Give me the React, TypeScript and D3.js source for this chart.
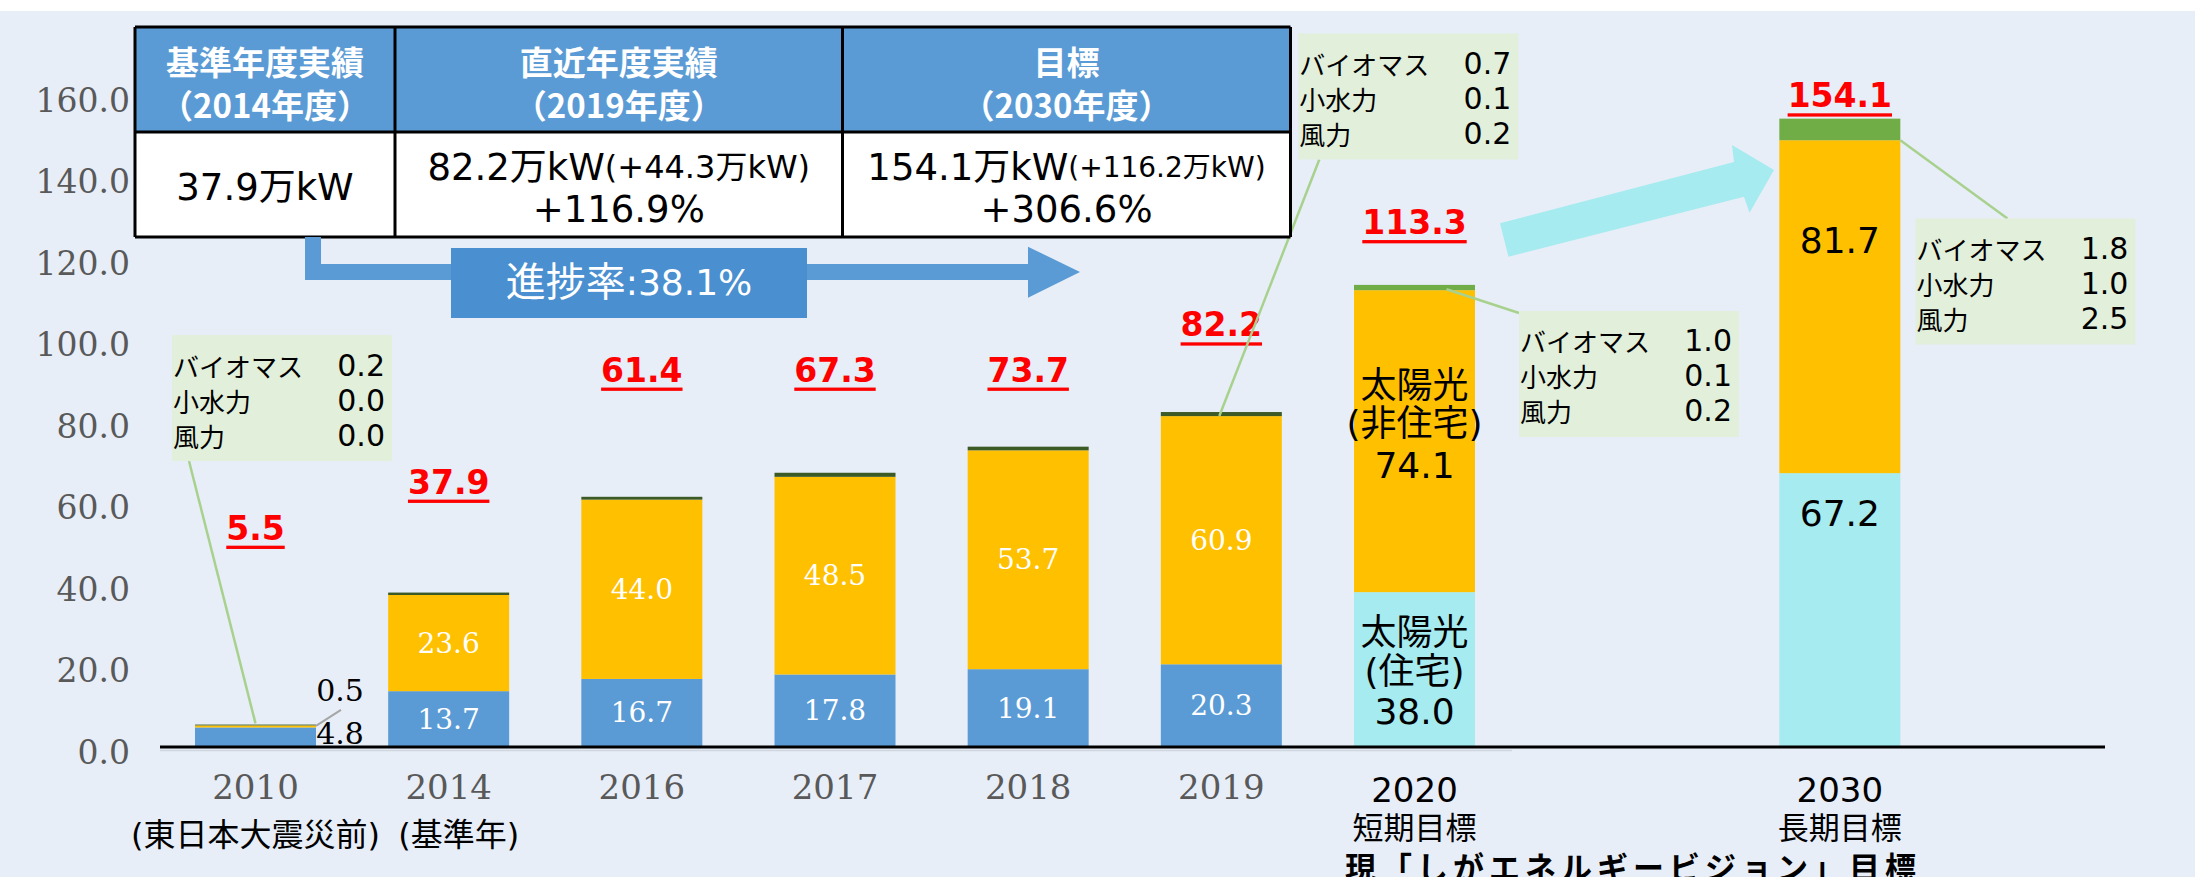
import React, { useEffect } from 'react';
import * as d3 from 'd3';

// ---------- data ----------
const categories = ['2010', '2014', '2016', '2017', '2018', '2019', '2020', '2030'];
const categoryNotes = ['(東日本大震災前)', '(基準年)', '', '', '', '', '短期目標', '長期目標'];
const solarResidential = [4.8, 13.7, 16.7, 17.8, 19.1, 20.3, 38.0, 67.2];
const solarNonResidential = [0.5, 23.6, 44.0, 48.5, 53.7, 60.9, 74.1, 81.7];
const otherSources = [0.2, 0.6, 0.7, 1.0, 0.9, 1.0, 1.3, 5.3];
const totals = [5.5, 37.9, 61.4, 67.3, 73.7, 82.2, 113.3, 154.1];
const yTickValues = [0, 20, 40, 60, 80, 100, 120, 140, 160];

const calloutCategories = ['2010', '2019', '2020', '2030'];
const calloutNames = ['バイオマス', '小水力', '風力'];
const biomass = [0.2, 0.7, 1.0, 1.8];
const smallHydro = [0.0, 0.1, 0.1, 1.0];
const wind = [0.0, 0.2, 0.2, 2.5];

const tableHeads = ['基準年度実績', '直近年度実績', '目標'];
const tableYears = ['（2014年度）', '（2019年度）', '（2030年度）'];
const tableValues = ['37.9万kW', '82.2万kW', '154.1万kW'];
const tableIncrements = ['', '(+44.3万kW)', '(+116.2万kW)'];
const tableRates = ['', '+116.9%', '+306.6%'];
const progressLabel = '進捗率';
const progressValue = ':38.1%';
const visionLabel = '現「しがエネルギービジョン」目標';

// ---------- styles ----------
const BG = '#E7EEF8';
const BLUE = '#5B9BD5';
const ORANGE = '#FFC000';
const CYAN = '#A5EBEF';
const GREEN = '#70AD47';
const DARKGREEN = '#3B5A26';
const CALLOUT = '#E2EFDA';
const LEADER = '#A9D18E';
const SANS = '"Noto Sans CJK JP", "Noto Sans", sans-serif';
const LATIN = '"DejaVu Sans", "Noto Sans CJK JP", sans-serif';
const SERIF = '"DejaVu Serif", serif';

export default function App() {
  useEffect(() => {
    document.body.style.margin = '0';
  }, []);

  const W = 2195;
  const H = 877;
  const y = d3.scaleLinear().domain([0, 160]).range([747, 95]);
  const hist = d3.scalePoint<string>().domain(categories.slice(0, 7)).range([255.5, 1414.5]);
  const step = hist.step();
  const xc = (c: string) => (c === '2030' ? (hist('2020') as number) + step * 2 + 39 : (hist(c) as number));
  const barW = 121;

  const rows = categories.map((c, i) => ({
    cat: c,
    res: solarResidential[i],
    nonres: solarNonResidential[i],
    oth: otherSources[i],
  }));
  const series = d3.stack<any>().keys(['res', 'nonres', 'oth'])(rows);
  const isTarget = (i: number) => i >= 6;
  const colorOf = (key: string, i: number) => {
    if (key === 'res') return isTarget(i) ? CYAN : BLUE;
    if (key === 'nonres') return ORANGE;
    return isTarget(i) ? GREEN : DARKGREEN;
  };

  // table layout
  const colEdges = [135, 395, 842.5, 1290.5];
  const rowEdges = [27, 132, 237];

  // total label levels (chart units, where the label centre sits)
  const totalLabelLevels = [53.7, 65, 92.5, 92.5, 92.5, 103.6, 128.7, 159.8];

  // callout box layout: offset from bar centre (px) and top level (chart units)
  const calloutLayout = [
    { dx: -83.5, top: 101.1 },
    { dx: 77, top: 175.1 },
    { dx: 104.5, top: 107 },
    { dx: 75.6, top: 129.7 },
  ];
  const boxW = 220;
  const boxH = 126;
  const calloutValues = calloutCategories.map((_, i) => [biomass[i], smallHydro[i], wind[i]]);

  const boxes = calloutCategories.map((c, i) => {
    const l = calloutLayout[i];
    return { x: xc(c) + l.dx, y: y(l.top), cat: c };
  });

  const leaders = [
    [boxes[0].x + 17, boxes[0].y + boxH, xc('2010'), y(solarResidential[0] + solarNonResidential[0]) - 2],
    [boxes[1].x + 21, boxes[1].y + boxH, xc('2019') - 2, y(totals[5]) + 4],
    [xc('2020') + 32, y(solarResidential[6] + solarNonResidential[6]) - 1, boxes[2].x, boxes[2].y + 2],
    [xc('2030') + barW / 2, y(solarResidential[7] + solarNonResidential[7]), boxes[3].x + 92, boxes[3].y],
  ];

  const x2010R = xc('2010') + barW / 2;
  const mid2020Non = y(solarResidential[6] + solarNonResidential[6] / 2);
  const mid2020Res = y(solarResidential[6] / 2);

  return (
    <svg
      width={W}
      height={H}
      viewBox={`0 0 ${W} ${H}`}
      style={{ position: 'absolute', left: 0, top: 0, display: 'block' }}
    >
      <rect x={0} y={0} width={W} height={H} fill={BG} />
      <rect x={0} y={0} width={W} height={11} fill="#FFFFFF" />

      {/* y tick labels */}
      {yTickValues.map((v) => (
        <text
          key={v}
          x={130}
          y={y(v) + 5}
          textAnchor="end"
          dominantBaseline="central"
          fontFamily={SERIF}
          fontSize={33}
          fill="#595959"
        >
          {d3.format('.1f')(v)}
        </text>
      ))}

      {/* big cyan arrow */}
      <polygon
        points="1508.5,256.7 1500,223.3 1734,162 1732,145 1774,170 1749.5,212.7 1744,196.7"
        fill={CYAN}
      />

      {/* bars */}
      {series.map((s) => (
        <g key={s.key}>
          {s.map((d, i) => (
            <rect
              key={categories[i]}
              x={xc(categories[i]) - barW / 2}
              y={y(d[1])}
              width={barW}
              height={Math.max(0, y(d[0]) - y(d[1]))}
              fill={colorOf(s.key as string, i)}
            />
          ))}
        </g>
      ))}

      {/* axis lines */}
      <line x1={160} x2={1512} y1={750.5} y2={750.5} stroke="#D0D6DE" strokeWidth={1.5} />
      <line x1={160} x2={2105} y1={747} y2={747} stroke="#000" strokeWidth={3} />

      {/* in-bar labels (historical) */}
      {categories.slice(1, 6).map((c) => {
        const i = categories.indexOf(c);
        const r = solarResidential[i];
        const n = solarNonResidential[i];
        return (
          <g key={c} fontFamily={SERIF} fontSize={28} fill="#FFFFFF" textAnchor="middle">
            <text x={xc(c)} y={y(r / 2)} dominantBaseline="central">
              {r.toFixed(1)}
            </text>
            <text x={xc(c)} y={y(r + n / 2)} dominantBaseline="central">
              {n.toFixed(1)}
            </text>
          </g>
        );
      })}

      {/* 2010 outside labels */}
      <line
        x1={x2010R}
        y1={y(solarResidential[0] + 0.4)}
        x2={x2010R + 25}
        y2={y(solarResidential[0] + 0.4) - 16}
        stroke="#A6A6A6"
        strokeWidth={2}
      />
      <text x={x2010R + 24} y={y(0) - 57} textAnchor="middle" dominantBaseline="central" fontFamily={SERIF} fontSize={30} fill="#000">
        {solarNonResidential[0].toFixed(1)}
      </text>
      <text x={x2010R + 24} y={y(0) - 14} textAnchor="middle" dominantBaseline="central" fontFamily={SERIF} fontSize={30} fill="#000">
        {solarResidential[0].toFixed(1)}
      </text>

      {/* in-bar labels (targets) */}
      <g fontFamily={LATIN} fontSize={36} fill="#000" textAnchor="middle">
        <text x={xc('2020')} y={mid2020Non - 56} dominantBaseline="central">太陽光</text>
        <text x={xc('2020')} y={mid2020Non - 18} dominantBaseline="central">(非住宅)</text>
        <text x={xc('2020')} y={mid2020Non + 24} dominantBaseline="central">{solarNonResidential[6].toFixed(1)}</text>
        <text x={xc('2020')} y={mid2020Res - 37} dominantBaseline="central">太陽光</text>
        <text x={xc('2020')} y={mid2020Res + 2} dominantBaseline="central">(住宅)</text>
        <text x={xc('2020')} y={mid2020Res + 42} dominantBaseline="central">{solarResidential[6].toFixed(1)}</text>
        <text x={xc('2030')} y={y(124.4)} dominantBaseline="central">{solarNonResidential[7].toFixed(1)}</text>
        <text x={xc('2030')} y={y(57.3)} dominantBaseline="central">{solarResidential[7].toFixed(1)}</text>
      </g>

      {/* total labels */}
      {categories.map((c, i) => (
        <text
          key={c}
          x={xc(c)}
          y={y(totalLabelLevels[i])}
          textAnchor="middle"
          dominantBaseline="central"
          fontFamily={LATIN}
          fontWeight="bold"
          fontSize={33}
          fill="#FF0000"
          style={{ textDecoration: 'underline', textDecorationThickness: '2px', textUnderlineOffset: '3px' }}
        >
          {totals[i].toFixed(1)}
        </text>
      ))}

      {/* leaders */}
      {leaders.map((l, i) => (
        <line key={i} x1={l[0]} y1={l[1]} x2={l[2]} y2={l[3]} stroke={LEADER} strokeWidth={2.5} />
      ))}

      {/* callouts */}
      {boxes.map((b, i) => (
        <g key={b.cat}>
          <rect x={b.x} y={b.y} width={boxW} height={boxH} fill={CALLOUT} />
          {calloutNames.map((n, k) => (
            <g key={n} fill="#000">
              <text x={b.x + 1} y={b.y + 30 + k * 35} dominantBaseline="central" fontFamily={SANS} fontSize={26}>
                {n}
              </text>
              <text
                x={b.x + boxW - 7}
                y={b.y + 30 + k * 35}
                dominantBaseline="central"
                textAnchor="end"
                fontFamily={LATIN}
                fontSize={30}
              >
                {calloutValues[i][k].toFixed(1)}
              </text>
            </g>
          ))}
        </g>
      ))}

      {/* table */}
      <rect x={colEdges[0]} y={rowEdges[0]} width={colEdges[3] - colEdges[0]} height={rowEdges[1] - rowEdges[0]} fill={BLUE} />
      <rect x={colEdges[0]} y={rowEdges[1]} width={colEdges[3] - colEdges[0]} height={rowEdges[2] - rowEdges[1]} fill="#FFFFFF" />
      {rowEdges.map((r) => (
        <line key={r} x1={colEdges[0]} x2={colEdges[3]} y1={r} y2={r} stroke="#000" strokeWidth={3} />
      ))}
      {colEdges.map((c) => (
        <line key={c} x1={c} x2={c} y1={rowEdges[0]} y2={rowEdges[2]} stroke="#000" strokeWidth={3} />
      ))}
      {tableHeads.map((h, i) => {
        const cx = (colEdges[i] + colEdges[i + 1]) / 2;
        return (
          <g key={h} fontFamily={SANS} fontWeight="bold" fontSize={33} fill="#FFFFFF" textAnchor="middle">
            <text x={cx} y={61} dominantBaseline="central">{h}</text>
            <text x={cx} y={104} dominantBaseline="central">{tableYears[i]}</text>
          </g>
        );
      })}
      {tableValues.map((v, i) => {
        const cx = (colEdges[i] + colEdges[i + 1]) / 2;
        const single = tableRates[i] === '';
        return (
          <g key={v} fontFamily={LATIN} fontSize={37} fill="#000" textAnchor="middle">
            <text x={cx} y={single ? 187 : 167} dominantBaseline="central">
              {v}
              {tableIncrements[i] && <tspan fontSize={i === 1 ? 32 : 28}>{tableIncrements[i]}</tspan>}
            </text>
            {!single && (
              <text x={cx} y={209} dominantBaseline="central">
                {tableRates[i]}
              </text>
            )}
          </g>
        );
      })}

      {/* progress arrow */}
      <polygon
        points="305,237 321,237 321,264 1028,264 1028,246.7 1080,272 1028,297.7 1028,280 305,280"
        fill={BLUE}
      />
      <rect x={451} y={248} width={356} height={70} fill="#4A8FD0" />
      <text x={629} y={282} textAnchor="middle" dominantBaseline="central" fontFamily={LATIN} fill="#FFFFFF" fontSize={40}>
        {progressLabel}
        <tspan fontSize={36}>{progressValue}</tspan>
      </text>

      {/* category labels */}
      {categories.map((c, i) => (
        <g key={c}>
          <text
            x={xc(c)}
            y={isTarget(i) ? 790 : 787}
            textAnchor="middle"
            dominantBaseline="central"
            fontFamily={isTarget(i) ? LATIN : SERIF}
            fontSize={34}
            fill={isTarget(i) ? '#000' : '#595959'}
          >
            {c}
          </text>
          {categoryNotes[i] && (
            <text
              x={xc(c) + (i === 1 ? 10 : 0)}
              y={isTarget(i) ? 828 : 835}
              textAnchor="middle"
              dominantBaseline="central"
              fontFamily={LATIN}
              fontSize={isTarget(i) ? 31 : 32}
              fill="#000"
            >
              {categoryNotes[i]}
            </text>
          )}
        </g>
      ))}
      <text
        x={1633}
        y={865}
        textAnchor="middle"
        dominantBaseline="central"
        fontFamily={SANS}
        fontWeight="bold"
        fontSize={31}
        letterSpacing={5}
        fill="#000"
      >
        {visionLabel}
      </text>
    </svg>
  );
}
